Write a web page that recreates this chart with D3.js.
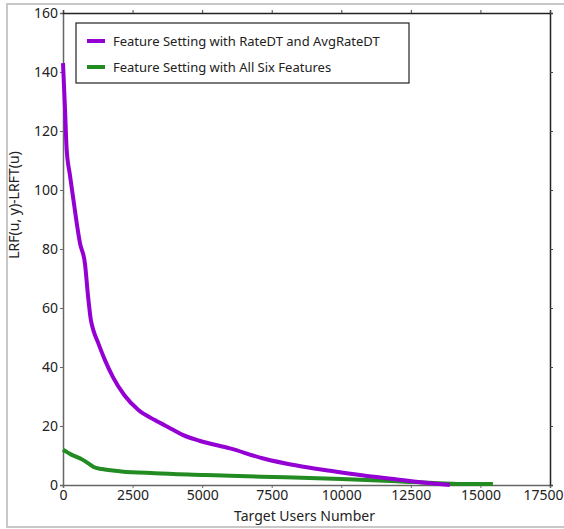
<!DOCTYPE html>
<html>
<head>
<meta charset="utf-8">
<script src="https://cdn.jsdelivr.net/npm/d3@7"></script>
<style>
  body { margin: 0; background: #fff; }
  text { font-family: "Noto Sans", sans-serif; fill: #222; }
</style>
</head>
<body>
<div id="chart"></div>
<script>
// series
var seriesNames = ["Feature Setting with RateDT and AvgRateDT", "Feature Setting with All Six Features"];
var seriesColors = ["#9400d3", "#228b22"];

var purpleX = [0, 70, 130, 250, 370, 490, 610, 790, 900, 1000, 1090, 1270, 1500, 1800, 2200, 2700, 3300, 3900, 4300, 4900, 6000, 7200, 8400, 9600, 10800, 12000, 12600, 13300, 13900];
var purpleY = [143, 128, 114, 105, 97, 89, 82, 75, 64, 56, 52.5, 48, 42.5, 36.5, 30.5, 25.5, 22, 19, 17, 15, 12.4, 9, 6.6, 4.8, 3.2, 1.9, 1.2, 0.5, 0];

var greenX = [0, 300, 700, 900, 1100, 1400, 2100, 3300, 5100, 6000, 8000, 10000, 12000, 13500, 14500, 15450];
var greenY = [12, 10.3, 8.6, 7.4, 6.1, 5.4, 4.6, 4.0, 3.4, 3.1, 2.6, 2.0, 1.3, 0.6, 0.3, 0.3];

var xTicks = [0, 2500, 5000, 7500, 10000, 12500, 15000, 17500];
var yTicks = [0, 20, 40, 60, 80, 100, 120, 140, 160];

var W = 564, H = 529;
var margin = {top: 13, right: 14, bottom: 44, left: 63},
    width = W - margin.left - margin.right,
    height = H - margin.top - margin.bottom;

var svg = d3.select("#chart").append("svg")
    .attr("width", W)
    .attr("height", H);

// light outer frame
svg.append("rect")
    .attr("x", 7).attr("y", 4)
    .attr("width", 570).attr("height", 523)
    .attr("fill", "none")
    .attr("stroke", "#c8c8c8")
    .attr("stroke-width", 2);

var g = svg.append("g")
    .attr("transform", "translate(" + margin.left + "," + margin.top + ")");

var x = d3.scaleLinear().domain([0, 17500]).range([0, width]);
var y = d3.scaleLinear().domain([0, 160]).range([height, 0]);

// axes
var xAxis = g.append("g")
    .attr("transform", "translate(0," + height + ")")
    .call(d3.axisBottom(x).tickValues(xTicks).tickSize(3).tickPadding(2).tickFormat(d3.format("d")));
var yAxis = g.append("g")
    .call(d3.axisLeft(y).tickValues(yTicks).tickSize(3).tickPadding(2));
[xAxis, yAxis].forEach(function(a) {
  a.select(".domain").attr("stroke", "#666").attr("stroke-width", 1.5);
  a.selectAll(".tick line").attr("stroke", "#666");
  a.selectAll(".tick text").style("font-size", "14px").attr("fill", "#222");
});
// last x label sits against the picture edge
xAxis.selectAll(".tick text").filter(function(d) { return d === 17500; })
    .attr("dx", -7);

// top and right with inward ticks
var xTop = g.append("g")
    .call(d3.axisBottom(x).tickValues(xTicks).tickSize(-3).tickFormat(""));
var yRight = g.append("g")
    .attr("transform", "translate(" + width + ",0)")
    .call(d3.axisLeft(y).tickValues(yTicks).tickSize(-3).tickFormat(""));
[xTop, yRight].forEach(function(a) {
  a.select(".domain").attr("stroke", "#222").attr("stroke-width", 1.5);
  a.selectAll(".tick line").attr("stroke", "#444");
});

// axis titles
svg.append("text")
    .attr("x", margin.left + width / 2 - 2)
    .attr("y", 521)
    .attr("text-anchor", "middle")
    .style("font-size", "14px")
    .text("Target Users Number");

svg.append("text")
    .attr("transform", "translate(19,205) rotate(-90)")
    .attr("text-anchor", "middle")
    .style("font-size", "14px")
    .text("LRF(u, y)-LRFT(u)");

// lines
var line = d3.line()
    .x(function(d) { return x(d[0]); })
    .y(function(d) { return y(d[1]); })
    .curve(d3.curveMonotoneX);

var series = [
  d3.zip(greenX, greenY),
  d3.zip(purpleX, purpleY)
];
var colorOrder = [seriesColors[1], seriesColors[0]];

g.selectAll(".series")
    .data(series)
    .enter().append("path")
    .attr("class", "series")
    .attr("d", line)
    .attr("fill", "none")
    .attr("stroke", function(d, i) { return colorOrder[i]; })
    .attr("stroke-width", 4)
    .attr("stroke-linejoin", "round");

// legend
var legend = svg.append("g").attr("transform", "translate(76,23)");
legend.append("rect")
    .attr("width", 333).attr("height", 60)
    .attr("fill", "#fff")
    .attr("stroke", "#222")
    .attr("stroke-width", 1.2);

var items = legend.selectAll(".item")
    .data(seriesNames)
    .enter().append("g")
    .attr("transform", function(d, i) { return "translate(0," + (18 + i * 26) + ")"; });
items.append("line")
    .attr("x1", 11).attr("x2", 29)
    .attr("stroke", function(d, i) { return seriesColors[i]; })
    .attr("stroke-width", 4);
items.append("text")
    .attr("x", 37).attr("dy", "0.35em")
    .style("font-size", "13px")
    .text(function(d) { return d; });
</script>
</body>
</html>
